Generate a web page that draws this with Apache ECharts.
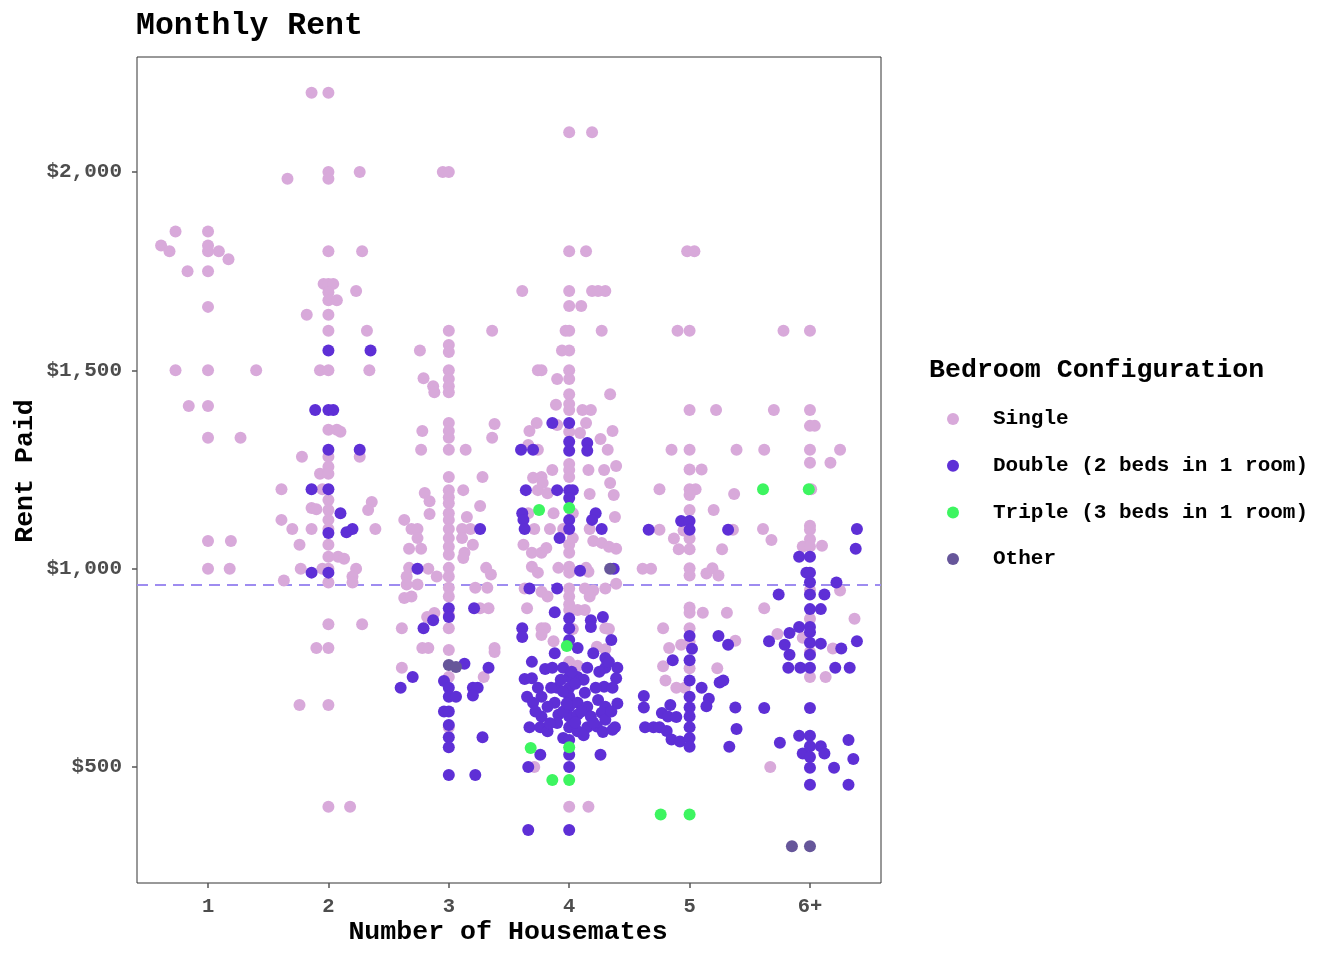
<!DOCTYPE html>
<html><head><meta charset="utf-8">
<script src="https://cdn.jsdelivr.net/npm/echarts@6/dist/echarts.min.js"></script>
<style>html,body{margin:0;padding:0;background:#fff}#c{width:1344px;height:960px}</style>
</head><body><div id="c"></div>
<script>
const categories = ['1','2','3','4','5','6+'];
const yTicks = [500, 1000, 1500, 2000];
const meanRent = 960;
const seriesNames = ['Single','Double (2 beds in 1 room)','Triple (3 beds in 1 room)','Other'];

const singlePts = [
// 1
[0.73,1850],[1.0,1850],[0.61,1815],[0.68,1800],[1.0,1815],[1.0,1800],[1.09,1800],[1.17,1780],[0.83,1750],[1.0,1750],[1.0,1660],[0.73,1500],[1.0,1500],[1.40,1500],[0.84,1410],[1.0,1410],[1.0,1330],[1.27,1330],[1.0,1070],[1.19,1070],[1.0,1000],[1.18,1000],
// 2
[1.86,2200],[2.0,2200],[2.0,2000],[2.0,1983],[1.66,1983],[2.26,2000],[2.0,1800],[2.28,1800],[1.96,1718],[2.0,1718],[2.04,1718],[2.0,1697],[2.23,1700],[2.0,1677],[2.07,1677],[1.82,1640],[2.0,1640],[2.0,1600],[2.32,1600],[1.93,1500],[2.0,1500],[2.34,1500],
[2.0,1350],[2.07,1350],[2.1,1345],[2.26,1282],[1.78,1282],[2.0,1282],[2.0,1257],[1.93,1239],[2.0,1239],[1.61,1200],[1.95,1200],[2.0,1173],[1.86,1153],[1.9,1150],[2.0,1148],[2.36,1168],[2.33,1148],[1.61,1123],[2.0,1123],[1.7,1100],[1.86,1100],[2.0,1100],[2.39,1100],[1.76,1060],[2.0,1060],[2.0,1030],[2.08,1030],[2.13,1025],[1.77,1000],[1.95,1000],[2.0,1000],[2.23,1000],[2.2,980],[1.63,970],[2.0,965],[2.2,965],[2.0,860],[2.28,860],[1.9,800],[2.0,800],[1.76,656],[2.0,656],[2.0,400],[2.18,400],
// 3
[2.95,2000],[3.0,2000],[3.0,1600],[3.36,1600],[2.76,1550],[3.0,1564],[3.0,1546],[2.79,1480],[2.87,1460],[2.88,1445],[3.0,1500],[3.0,1478],[3.0,1460],[3.0,1445],[2.78,1347],[3.0,1367],[3.0,1347],[3.0,1330],[3.38,1365],[3.36,1330],[2.77,1300],[3.0,1300],[3.14,1300],[3.0,1231],[3.28,1231],[2.8,1191],[2.84,1170],[3.0,1198],[3.0,1180],[3.0,1165],[3.12,1198],[2.84,1138],[3.0,1140],[3.0,1123],[3.15,1130],[3.26,1158],[2.63,1123],[2.69,1100],[2.74,1100],[2.74,1077],[2.67,1050],[2.77,1050],[3.0,1100],[3.0,1077],[3.0,1055],[3.0,1035],[3.11,1100],[3.18,1100],[3.11,1077],[3.2,1060],[3.13,1040],
[2.67,1002],[2.83,1000],[2.9,980],[3.0,1002],[3.0,980],[3.0,952],[3.0,930],[3.12,1027],[2.65,980],[2.65,960],[2.74,960],[2.63,926],[2.69,930],[3.31,1002],[3.35,985],[3.22,952],[3.32,952],[3.26,900],[3.33,900],[3.0,883],[2.82,878],[2.88,888],[2.61,850],[3.0,850],[2.78,800],[2.83,800],[3.0,795],[3.38,800],[3.38,790],[2.61,750],[3.29,727],[3.0,727],[3.0,600],
// 4
[4.0,2100],[4.19,2100],[4.0,1800],[4.14,1800],[3.61,1700],[4.0,1700],[4.19,1700],[4.24,1700],[4.30,1700],[4.0,1662],[4.1,1662],[3.97,1600],[4.0,1600],[4.27,1600],[3.94,1550],[4.0,1550],[3.74,1500],[3.77,1500],[4.0,1500],[3.9,1478],[4.0,1478],[4.0,1440],[4.34,1440],[3.89,1413],[4.0,1415],[4.0,1400],[4.11,1400],[4.18,1400],[3.73,1367],[4.14,1367],[3.67,1347],[3.9,1362],[4.0,1345],[4.09,1342],[4.36,1347],[4.26,1327],[3.74,1300],[3.66,1312],[4.32,1300],[3.86,1249],[4.0,1264],[4.0,1249],[4.0,1231],[4.16,1249],[4.29,1249],[4.39,1259],[4.34,1216],[3.7,1229],[3.77,1231],[3.78,1216],[3.74,1198],[3.82,1190],[4.17,1188],[4.37,1186],[3.66,1140],[3.87,1140],[4.03,1140],[4.38,1130],[3.71,1100],[3.84,1100],[3.95,1100],[4.17,1100],[3.62,1060],[3.69,1040],[3.77,1040],[3.81,1052],[4.0,1060],[4.03,1077],[4.0,1040],[4.2,1070],[4.27,1065],[4.33,1055],[4.39,1050],
[3.69,1005],[3.74,990],[3.91,1002],[4.0,1005],[4.0,990],[4.14,1002],[4.16,992],[3.63,950],[3.77,942],[3.82,930],[4.0,950],[4.0,930],[4.0,910],[4.13,950],[4.2,945],[4.3,950],[4.17,930],[4.39,962],[3.65,900],[4.0,896],[4.07,896],[4.13,896],[4.3,850],[4.33,848],[3.77,850],[3.8,850],[3.77,833],[4.03,848],[3.87,817],[4.0,765],[4.07,755],[4.23,803],[4.3,797],[3.71,500],[4.0,400],[4.16,400],
// 5
[4.98,1800],[5.04,1800],[4.90,1600],[5.0,1600],[5.0,1400],[5.22,1400],[4.85,1300],[5.0,1300],[5.39,1300],[5.0,1250],[5.10,1250],[4.75,1200],[5.0,1200],[5.05,1200],[5.0,1186],[5.37,1188],[5.0,1148],[5.2,1148],[4.75,1098],[5.36,1098],[4.95,1096],[4.87,1076],[5.0,1076],[4.91,1049],[5.0,1049],[5.27,1049],[4.61,1000],[4.68,1000],[5.0,1001],[5.0,983],[5.14,988],[5.19,1001],[5.24,983],
[5.0,902],[5.0,889],[5.11,889],[5.31,889],[4.78,850],[5.0,850],[5.38,818],[4.83,800],[4.93,808],[5.0,816],[4.78,754],[5.0,749],[5.23,749],[4.80,718],[4.89,700],[4.96,700],
// 6
[5.78,1600],[6.0,1600],[5.70,1400],[6.0,1400],[6.0,1360],[6.04,1360],[5.62,1300],[6.0,1300],[6.25,1300],[6.0,1267],[6.17,1267],[6.01,1200],[5.61,1100],[5.68,1072],[6.0,1108],[6.0,1098],[6.0,1074],[5.94,1056],[6.0,1056],[6.10,1058],[6.25,945],[6.0,946],[5.62,900],[6.0,874],[6.37,874],[5.73,835],[5.94,826],[6.19,799],[6.0,790],[6.0,727],[6.13,727],[5.67,500]
];

const doublePts = [
// 2
[2.0,1550],[2.35,1550],[1.89,1400],[2.0,1400],[2.04,1400],[2.0,1300],[2.26,1300],[1.86,1200],[2.0,1200],[2.1,1140],[2.0,1090],[2.15,1092],[2.2,1100],[1.86,990],[2.0,990],
// 3
[3.26,1100],[2.74,1000],[3.21,900],[3.0,900],[3.0,878],[2.87,870],[2.79,850],[3.13,760],[3.33,750],[2.7,727],[2.6,700],[2.96,717],[3.0,700],[3.0,677],[3.06,677],[3.2,700],[3.24,700],[3.2,680],[2.96,640],[3.0,640],[3.0,606],[3.0,575],[3.28,575],[3.0,550],[3.0,480],[3.22,480],
// 4
[3.86,1367],[4.0,1367],[4.0,1320],[4.0,1297],[4.15,1317],[4.15,1297],[3.6,1300],[3.7,1300],[3.64,1198],[3.9,1198],[4.0,1198],[4.03,1198],[4.0,1178],[3.61,1140],[3.62,1123],[3.63,1100],[4.22,1140],[4.19,1123],[4.27,1100],[3.92,1077],[4.0,1123],[4.0,1100],[4.09,995],[4.37,1000],[3.67,950],[3.9,950],
[3.88,890],[4.18,870],[4.18,853],[4.28,878],[3.61,850],[3.61,828],[4.0,875],[4.0,850],[4.0,820],[4.35,820],[4.07,800],[3.88,787],[4.2,787],[4.3,775],[3.69,765],[3.8,747],[3.86,750],[3.95,750],[4.15,750],[4.3,750],[4.4,750],[4.33,765],
[3.63,722],[3.69,724],[3.9,700],[4.0,727],[4.0,700],[4.07,727],[4.12,720],[4.39,724],[4.29,702],[4.36,700],
[3.65,677],[3.74,700],[3.77,677],[3.7,662],[4.0,677],[4.0,652],[4.07,662],[4.13,687],[4.15,652],[3.88,662],[3.82,652],[4.24,669],[4.3,652],[4.4,660],
[3.77,627],[3.91,632],[4.0,627],[4.07,632],[4.18,627],[4.27,637],[4.3,619],
[3.67,600],[3.76,600],[3.82,590],[3.9,611],[4.0,600],[4.07,590],[4.15,600],[4.23,602],[4.28,588],[4.36,594],[4.38,600],
[3.95,690],[4.05,710],[4.1,640],[3.85,700],[3.95,640],[4.05,612],[4.2,612],[3.72,640],[4.22,700],[3.93,720],[4.12,580],[3.98,660],[4.02,740],[3.84,610],[4.35,640],[4.25,740],
[3.95,573],[4.0,568],[3.76,531],[4.0,531],[4.26,531],[3.66,500],[4.0,500],[3.66,341],[4.0,341],
// 5
[4.93,1120],[5.0,1120],[5.0,1098],[4.66,1098],[5.32,1098],[5.0,830],[5.24,830],[5.32,808],[5.02,798],[4.86,769],[5.0,769],[5.0,718],[5.10,700],[5.25,713],[5.28,718],
[4.62,679],[4.62,650],[4.84,656],[5.0,677],[5.0,650],[5.16,672],[5.14,653],[5.38,650],[4.77,636],[4.82,627],[4.89,626],[5.0,627],
[4.63,600],[4.70,600],[4.75,600],[4.81,591],[5.0,600],[5.39,596],[4.85,569],[4.92,564],[5.0,573],[5.0,551],[5.33,551],
// 6
[6.39,1100],[6.38,1050],[5.91,1030],[6.0,1030],[5.97,990],[6.0,990],[6.0,966],[6.22,965],[5.74,935],[6.0,935],[6.12,935],[6.0,898],[6.09,898],[5.91,853],[6.0,853],[6.0,840],[5.83,838],[5.66,817],[5.79,808],[5.83,783],[6.0,813],[6.09,811],[6.0,783],[6.26,799],[6.39,817],[5.82,750],[5.92,750],[6.0,750],[6.21,750],[6.33,750],[5.62,649],[6.0,649],[5.91,579],[6.0,579],[5.75,561],[5.94,534],[6.0,552],[6.0,525],[6.09,552],[6.12,534],[6.32,568],[6.36,520],[6.0,498],[6.20,498],[6.0,455],[6.32,455]
];

const triplePts = [
[3.75,1148],[4.0,1153],[3.98,805],[3.68,548],[4.0,550],[3.86,467],[4.0,467],
[4.76,380],[5.0,380],
[5.61,1200],[5.99,1200]
];

const otherPts = [
[3.0,757],[3.06,752],[4.34,1000],[5.85,300],[6.0,300]
];

const colors = ['#D8A9DA','#5E2FD6','#3DF560','#66569A'];
const FONT = '"Liberation Mono", "Courier New", monospace';

const chart = echarts.init(document.getElementById('c'), null, {renderer:'canvas'});
const pts = [singlePts, doublePts, triplePts, otherPts];
const series = seriesNames.map((n,i)=>({
  name:n, type:'scatter', data:pts[i], symbol:'circle', symbolSize:12,
  itemStyle:{color:colors[i], opacity:1}, silent:true, z:2
}));
series[0].markLine = {
  silent:true, symbol:['none','none'], label:{show:false},
  lineStyle:{color:'#9E8CF0', type:[11,7], width:2},
  data:[{yAxis:meanRent}], z:1
};

chart.setOption({
  animation:false,
  title:{text:'Monthly Rent', left:131, top:5,
    textStyle:{fontFamily:FONT, fontWeight:'bold', fontSize:31.5, color:'#000'}},
  grid:{left:137, top:57, right:463, bottom:77, show:true, borderColor:'#333', borderWidth:1, backgroundColor:'#fff'},
  xAxis:{type:'value', min:0.41, max:6.59,
    axisLine:{show:false}, splitLine:{show:false},
    axisTick:{show:true, length:5, customValues:[1,2,3,4,5,6], lineStyle:{color:'#555', width:1.5}},
    axisLabel:{customValues:[1,2,3,4,5,6], margin:13, color:'#4d4d4d', fontFamily:FONT, fontWeight:'bold', fontSize:20.5,
      formatter:v=>categories[Math.round(v)-1]}},
  yAxis:{type:'value', min:207.5, max:2290,
    axisLine:{show:false}, splitLine:{show:false},
    axisTick:{show:true, length:5, customValues:yTicks, lineStyle:{color:'#555', width:1.5}},
    axisLabel:{customValues:yTicks, margin:15, color:'#4d4d4d', fontFamily:FONT, fontWeight:'bold', fontSize:21,
      formatter:v=>'$'+v.toLocaleString('en-US')}},
  legend:{data:seriesNames, orient:'vertical', left:947, top:407, padding:0,
    icon:'circle', itemWidth:12, itemHeight:12, itemGap:22.7, selectedMode:false,
    textStyle:{fontFamily:FONT, fontWeight:'bold', fontSize:21, color:'#000', lineHeight:24, padding:[0,0,0,29]}},
  graphic:[
    {type:'text', left:929, top:357, style:{text:'Bedroom Configuration', font:'bold 26.6px '+FONT, fill:'#000'}},
    {type:'text', x:508, y:932, style:{text:'Number of Housemates', font:'bold 26.6px '+FONT, fill:'#000', align:'center', verticalAlign:'middle'}},
    {type:'text', x:25, y:471, rotation:Math.PI/2, style:{text:'Rent Paid', font:'bold 26.6px '+FONT, fill:'#000', align:'center', verticalAlign:'middle'}}
  ],
  series:series
});
</script></body></html>
